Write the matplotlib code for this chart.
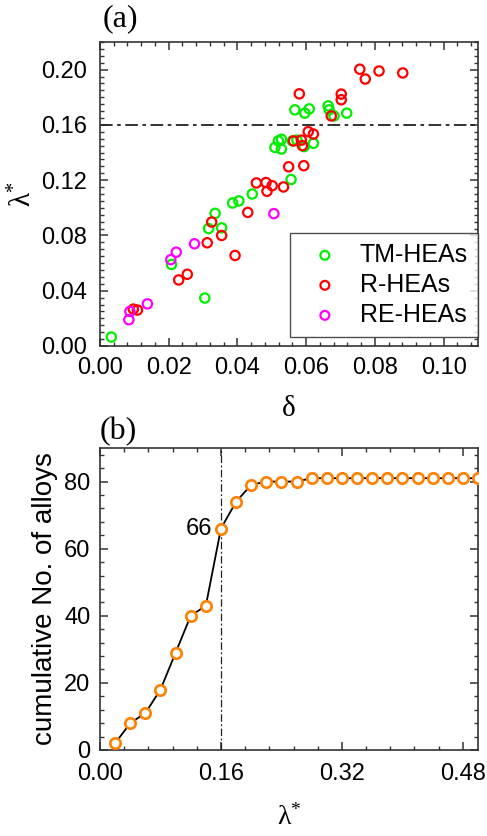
import matplotlib
matplotlib.use("Agg")
import matplotlib.pyplot as plt
from matplotlib.ticker import MultipleLocator

# ---------------- data ----------------
tm_delta = [0.0033, 0.0305, 0.0208, 0.0316, 0.0335, 0.0354, 0.0386, 0.0404, 0.0443,
            0.0556, 0.0509, 0.0519, 0.0528, 0.0528, 0.0560, 0.0573, 0.0594, 0.0621,
            0.0567, 0.0596, 0.0609, 0.0664, 0.0667, 0.0681, 0.0718]
tm_lam = [0.0065, 0.0347, 0.0590, 0.0850, 0.0960, 0.0855, 0.1035, 0.1050, 0.1100,
          0.1205, 0.1437, 0.1484, 0.1496, 0.1425, 0.1484, 0.1490, 0.1443, 0.1467,
          0.1709, 0.1685, 0.1716, 0.1738, 0.1709, 0.1665, 0.1685]

r_delta = [0.0097, 0.0109, 0.0229, 0.0254, 0.0312, 0.0325, 0.0354, 0.0393, 0.0430,
           0.0455, 0.0483, 0.0486, 0.0501, 0.0534, 0.0549, 0.0593, 0.0563, 0.0586,
           0.0589, 0.0606, 0.0621, 0.0580, 0.0702, 0.0702, 0.0673, 0.0756, 0.0772,
           0.0812, 0.0881]
r_lam = [0.0267, 0.0260, 0.0478, 0.0519, 0.0747, 0.0897, 0.0800, 0.0655, 0.0967,
         0.1180, 0.1183, 0.1120, 0.1160, 0.1151, 0.1297, 0.1305, 0.1484, 0.1490,
         0.1450, 0.1551, 0.1534, 0.1825, 0.1823, 0.1782, 0.1665, 0.2003, 0.1932,
         0.1990, 0.1976]

re_delta = [0.0084, 0.0087, 0.0138, 0.0206, 0.0222, 0.0275, 0.0506]
re_lam = [0.0190, 0.0250, 0.0305, 0.0625, 0.0679, 0.0740, 0.0958]

lam_bins = [0.02, 0.04, 0.06, 0.08, 0.10, 0.12, 0.14, 0.16, 0.18, 0.20, 0.22, 0.24,
            0.26, 0.28, 0.30, 0.32, 0.34, 0.36, 0.38, 0.40, 0.42, 0.44, 0.46, 0.48, 0.50]
cum_counts = [2, 8, 11, 18, 29, 40, 43, 66, 74, 79, 80, 80, 80, 81, 81, 81, 81, 81,
              81, 81, 81, 81, 81, 81, 81]

series_labels = ["TM-HEAs", "R-HEAs", "RE-HEAs"]
threshold = 0.16
annot_value = "66"

# ---------------- style ----------------
plt.rcParams['font.family'] = ['Liberation Sans', 'DejaVu Sans']
plt.rcParams['mathtext.fontset'] = 'custom'
plt.rcParams['mathtext.rm'] = 'Liberation Serif'
plt.rcParams['mathtext.it'] = 'Liberation Serif:italic'
SERIF = ['Liberation Serif', 'DejaVu Serif']
TICK_FS = 17
SPINE_C = '#333333'

GREEN = '#00EE00'
RED = '#FF0000'
MAGENTA = '#FF00FF'
ORANGE = '#FF8000'

fig = plt.figure(figsize=(4.87, 8.36), dpi=100)
ax1 = fig.add_axes([100/487, 1-346/836, 378/487, 304/836])
ax2 = fig.add_axes([100/487, 1-750/836, 378/487, 302/836])


def style_axes(ax, ypad, xpad):
    for s in ax.spines.values():
        s.set_color(SPINE_C)
        s.set_linewidth(1.2)
    ax.tick_params(which='both', direction='in', top=True, right=True,
                   color=SPINE_C, labelsize=TICK_FS)
    ax.tick_params(which='major', length=6, width=1.1)
    ax.tick_params(which='minor', length=3, width=1.0)
    ax.tick_params(axis='y', which='major', pad=ypad)
    ax.tick_params(axis='x', which='major', pad=xpad)


# ---------------- panel (a) ----------------
ms = 45
ax1.scatter(tm_delta, tm_lam, s=ms, facecolors='none', edgecolors=GREEN,
            linewidths=1.6, label=series_labels[0], zorder=3)
ax1.scatter(r_delta, r_lam, s=ms, facecolors='none', edgecolors=RED,
            linewidths=1.6, label=series_labels[1], zorder=3)
ax1.scatter(re_delta, re_lam, s=ms, facecolors='none', edgecolors=MAGENTA,
            linewidths=1.6, label=series_labels[2], zorder=3)
ax1.axhline(threshold, color='#222222', lw=1.3, ls=(0, (7, 2.5, 2, 2.5)), zorder=2)

ax1.set_xlim(0, 0.11)
ax1.set_ylim(0, 0.22)
ax1.xaxis.set_major_locator(MultipleLocator(0.02))
ax1.xaxis.set_minor_locator(MultipleLocator(0.004))
ax1.yaxis.set_major_locator(MultipleLocator(0.04))
ax1.yaxis.set_minor_locator(MultipleLocator(0.005))
ax1.xaxis.set_major_formatter(plt.FormatStrFormatter('%.2f'))
ax1.yaxis.set_major_formatter(plt.FormatStrFormatter('%.2f'))
style_axes(ax1, ypad=9, xpad=8)

ax1.set_xlabel('δ', family=SERIF, fontsize=21, labelpad=12)
ax1.set_ylabel(r'λ$^{*}$', family=SERIF, fontsize=21, labelpad=3)

leg = ax1.legend(loc='lower right', bbox_to_anchor=(1.0, 0.03), borderaxespad=0,
                 fontsize=18, frameon=True, fancybox=False, edgecolor='#222222',
                 handlelength=2.0, handletextpad=0.4, borderpad=0.4,
                 labelspacing=0.24, scatterpoints=1, markerscale=0.95)
leg.get_frame().set_linewidth(1.0)

# ---------------- panel (b) ----------------
ax2.plot(lam_bins, cum_counts, color='black', lw=1.3, marker='o', markersize=7.5,
         markerfacecolor='white', markeredgecolor=ORANGE, markeredgewidth=1.9,
         zorder=3)
ax2.axvline(threshold, color='#222222', lw=0.9, ls=(0, (6, 2, 1.5, 2)), zorder=2)
ax2.text(threshold - 0.012, cum_counts[lam_bins.index(threshold)], annot_value,
         ha='right', va='center', fontsize=TICK_FS)

ax2.set_xlim(0, 0.50)
ax2.set_ylim(0, 90)
ax2.xaxis.set_major_locator(MultipleLocator(0.16))
ax2.xaxis.set_minor_locator(MultipleLocator(0.032))
ax2.yaxis.set_major_locator(MultipleLocator(20))
ax2.yaxis.set_minor_locator(MultipleLocator(4))
ax2.xaxis.set_major_formatter(plt.FormatStrFormatter('%.2f'))
style_axes(ax2, ypad=7, xpad=9)

ax2.set_xlabel(r'λ$^{*}$', family=SERIF, fontsize=20, labelpad=14)
ax2.set_ylabel('cumulative No. of alloys', fontsize=20, labelpad=4)

# panel tags
fig.text(103/487, 1-19/836, '(a)', family=SERIF, fontsize=23, ha='left', va='center')
fig.text(100/487, 1-432/836, '(b)', family=SERIF, fontsize=23, ha='left', va='center')

fig.savefig('out.png', dpi=100)
